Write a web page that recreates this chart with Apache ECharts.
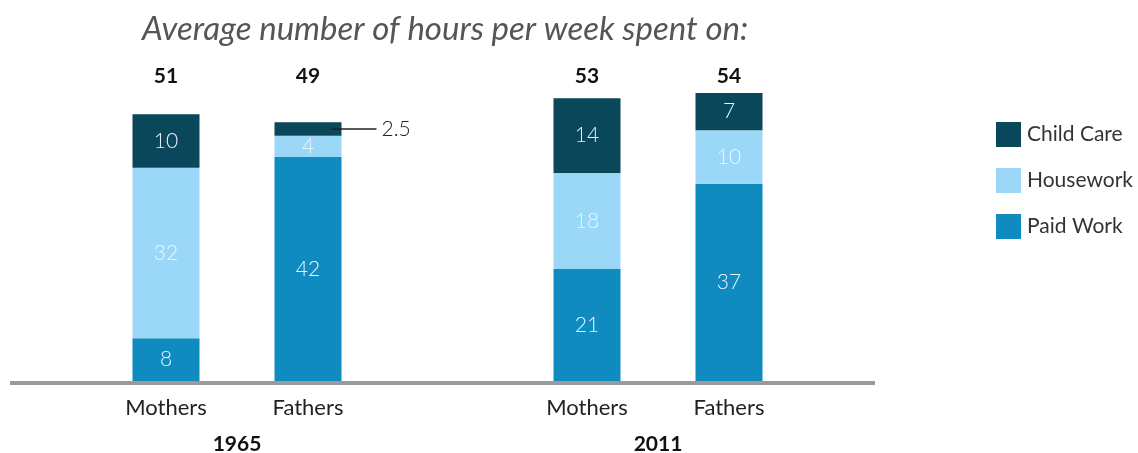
<!DOCTYPE html>
<html>
<head>
<meta charset="utf-8">
<script src="https://cdn.jsdelivr.net/npm/echarts@6/dist/echarts.min.js"></script>
<style>
  html, body { margin: 0; padding: 0; background: #fff; }
  #chart { width: 1138px; height: 453px; }
</style>
</head>
<body>
<div id="chart"></div>
<script>
// data
var years = ["1965", "2011"];
var people = ["Mothers", "Fathers"];
var paidWork = [[8, 42], [21, 37]];
var housework = [[32, 4], [18, 10]];
var childCare = [[10, 2.5], [14, 7]];
var totals = [["51", "49"], ["53", "54"]];

var FONT = "Lato";
var colors = { child: "#0a475a", house: "#9bd8f8", paid: "#0f8bc0" };

var chart = echarts.init(document.getElementById("chart"));

var gridLefts = [95, 516];
var grids = [], xAxes = [], yAxes = [], series = [];

years.forEach(function (yr, g) {
  grids.push({ left: gridLefts[g], width: 284, top: 61, bottom: 72, outerBoundsMode: "none", containLabel: false });
  // people axis
  xAxes.push({
    type: "category", gridIndex: g, data: people,
    axisLine: { show: false }, axisTick: { show: false },
    axisLabel: { color: "#222", fontSize: 22, fontFamily: FONT, margin: 16 }
  });
  // year axis
  xAxes.push({
    type: "category", gridIndex: g, data: [yr], position: "bottom", offset: 53,
    axisLine: { show: false }, axisTick: { show: false },
    axisLabel: { color: "#111", fontSize: 21, fontWeight: "bold", fontFamily: FONT, margin: 0 }
  });
  // totals above bars
  xAxes.push({
    type: "category", gridIndex: g, data: totals[g], position: "top", offset: -26,
    axisLine: { show: false }, axisTick: { show: false },
    axisLabel: { color: "#111", fontSize: 21, fontWeight: "bold", fontFamily: FONT, margin: 0 }
  });
  yAxes.push({ type: "value", gridIndex: g, min: 0, max: 60, show: false });

  var inner = { show: true, position: "inside", color: "#eaf6fd", fontSize: 21, fontWeight: 300, fontFamily: FONT };
  var base = { type: "bar", xAxisIndex: g * 3, yAxisIndex: g, stack: "s" + g, barWidth: 67, label: inner };

  series.push(Object.assign({}, base, { name: "Paid Work", itemStyle: { color: colors.paid }, data: paidWork[g] }));
  series.push(Object.assign({}, base, { name: "Housework", itemStyle: { color: colors.house }, data: housework[g] }));
  series.push(Object.assign({}, base, {
    name: "Child Care", itemStyle: { color: colors.child },
    data: childCare[g].map(function (v) {
      if (v < 3) {
        // thin segment: label pulled out to the right with a short line
        return {
          value: v,
          label: {
            position: "right", distance: -10,
            formatter: "{l|}{v|{c}}",
            rich: {
              l: { width: 45, height: 1.3, backgroundColor: "#222" },
              v: { color: "#222", fontSize: 21, fontWeight: 300, fontFamily: FONT, padding: [0, 0, 0, 5] }
            }
          }
        };
      }
      return v;
    })
  }));
});

chart.setOption({
  animation: false,
  title: {
    text: "Average number of hours per week spent on:",
    left: 142, top: 13, padding: 0,
    textStyle: { color: "#555", fontSize: 33, fontStyle: "italic", fontWeight: "normal", fontFamily: FONT }
  },
  legend: {
    orient: "vertical", left: 996, top: 122, padding: 0,
    data: ["Child Care", "Housework", "Paid Work"],
    icon: "rect", itemWidth: 25, itemHeight: 25, itemGap: 21,
    textStyle: { color: "#333", fontSize: 21, fontFamily: FONT, padding: [0, 0, 0, 1] }
  },
  graphic: [{
    type: "line", z: 0,
    shape: { x1: 10, y1: 383, x2: 875, y2: 383 },
    style: { stroke: "#9a9a9a", lineWidth: 4 }
  }],
  grid: grids,
  xAxis: xAxes,
  yAxis: yAxes,
  series: series
});
</script>
</body>
</html>
